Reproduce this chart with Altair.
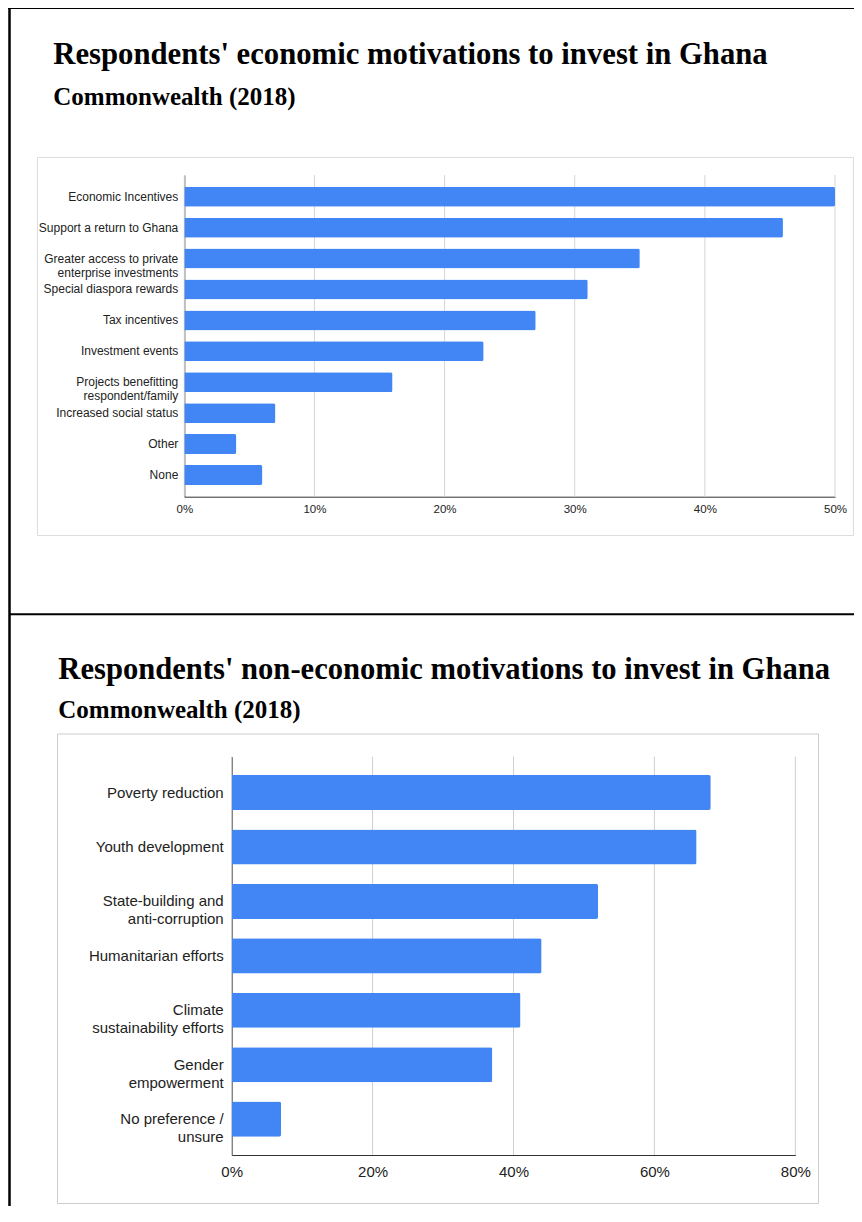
import altair as alt
import pandas as pd

# ---------------- data ----------------
econ_categories = [
    "Economic Incentives",
    "Support a return to Ghana",
    "Greater access to private\nenterprise investments",
    "Special diaspora rewards",
    "Tax incentives",
    "Investment events",
    "Projects benefitting\nrespondent/family",
    "Increased social status",
    "Other",
    "None",
]
econ_values = [50, 46, 35, 31, 27, 23, 16, 7, 4, 6]
econ_ticks = [0, 10, 20, 30, 40, 50]

nonecon_categories = [
    "Poverty reduction",
    "Youth development",
    "State-building and\nanti-corruption",
    "Humanitarian efforts",
    "Climate\nsustainability efforts",
    "Gender\nempowerment",
    "No preference /\nunsure",
]
nonecon_values = [68, 66, 52, 44, 41, 37, 7]
nonecon_ticks = [0, 20, 40, 60, 80]

title_top = "Respondents' economic motivations to invest in Ghana"
title_bottom = "Respondents' non-economic motivations to invest in Ghana"
subtitle = "Commonwealth (2018)"

# ---------------- layout ----------------
W, H = 846, 1198
SANS = "Liberation Sans, Arial, sans-serif"
SERIF = "Liberation Serif, Times New Roman, serif"
BLUE = "#4285F4"
one = pd.DataFrame({"d": [0]})


def panel(cats, vals, ticks, xr, yr, pad_in, pad_out, lab_size, tick_size,
          lab_pad, tick_pad, line_h, grid_color):
    df = pd.DataFrame({"category": cats, "value": vals})
    tdf = pd.DataFrame({"value": ticks})
    xs = alt.Scale(domain=[0, ticks[-1]], range=xr, nice=False, zero=True)
    ys = alt.Scale(domain=cats, range=yr, paddingInner=pad_in, paddingOuter=pad_out)
    xaxis = alt.Axis(orient="bottom", offset=yr[1] - H, values=ticks,
                     labelExpr="datum.value + '%'", grid=False, ticks=False,
                     domainColor="#333333", domainWidth=1, labelFont=SANS,
                     labelFontSize=tick_size, labelColor="#222222",
                     labelPadding=tick_pad, title=None, labelFlush=False,
                     labelOverlap=False)
    yaxis = alt.Axis(orient="left", offset=-xr[0], grid=False, ticks=False,
                     domainColor="#333333", domainWidth=1, labelFont=SANS,
                     labelFontSize=lab_size, labelColor="#222222",
                     labelPadding=lab_pad, labelLineHeight=line_h,
                     labelExpr="split(datum.label, '\\n')", title=None,
                     labelLimit=300)
    grid = alt.Chart(tdf).mark_rule(color=grid_color, strokeWidth=1).encode(
        x=alt.X("value:Q", scale=xs, axis=xaxis),
        y=alt.value(yr[0]),
        y2=alt.value(yr[1]),
    )
    bars = alt.Chart(df).mark_bar(color=BLUE, cornerRadiusEnd=2).encode(
        x=alt.X("value:Q", scale=xs, axis=xaxis),
        y=alt.Y("category:N", sort=cats, scale=ys, axis=yaxis),
    )
    return alt.layer(grid, bars)


top = panel(econ_categories, econ_values, econ_ticks,
            [176.3, 827.0], [167.0, 488.7], 0.353, 0.38,
            12, 11.5, 6.5, 7, 14, "#d6d6d6")
bottom = panel(nonecon_categories, nonecon_values, nonecon_ticks,
               [223.7, 787.3], [748.7, 1147.0], 0.356, 0.337,
               15, 15, 8.5, 9, 18, "#cfcfcf")


def rule(x, x2, y, y2, color, w):
    return alt.Chart(one).mark_rule(color=color, strokeWidth=w).encode(
        x=alt.value(x), x2=alt.value(x2), y=alt.value(y), y2=alt.value(y2))


def box(x, x2, y, y2, color):
    return alt.Chart(one).mark_rect(fillOpacity=0, stroke=color, strokeWidth=1).encode(
        x=alt.value(x), x2=alt.value(x2), y=alt.value(y), y2=alt.value(y2))


def text(t, x, y, size):
    return alt.Chart(one).mark_text(
        font=SERIF, fontWeight="bold", fontSize=size, align="left",
        baseline="alphabetic", color="#000000").encode(
        x=alt.value(x), y=alt.value(y), text=alt.value(t))


decor = [
    box(29.5, 845.5, 149.5, 527.5, "#dddddd"),
    box(49.5, 810.5, 726.0, 1195.5, "#cccccc"),
    rule(0, W, 0, 0, "#000000", 2),
    rule(1.5, 1.5, 0, H, "#000000", 2.5),
    rule(1.5, W, 606.3, 606.3, "#000000", 2),
    text(title_top, 45.3, 56.3, 30.7),
    text(subtitle, 45.3, 97.0, 25),
    text(title_bottom, 50.3, 671.3, 30.6),
    text(subtitle, 50.3, 710.3, 25),
]

chart = alt.layer(*decor, top, bottom).resolve_scale(
    x="independent", y="independent"
).properties(
    width=W, height=H, autosize=alt.AutoSizeParams(type="none"), padding=0,
    background="white",
).configure_view(strokeWidth=0)

chart.save("out.html", embed_options={"renderer": "svg", "actions": False})
